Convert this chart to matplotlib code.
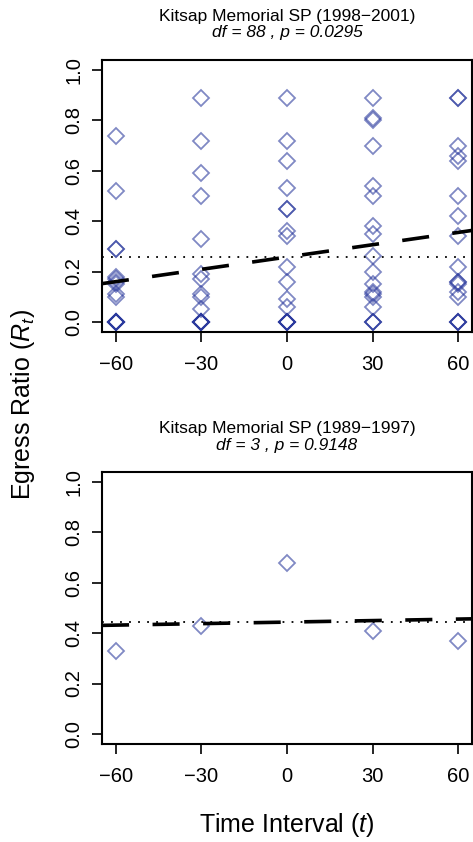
import numpy as np
import matplotlib
matplotlib.use("Agg")
import matplotlib.pyplot as plt

plt.rcParams['font.family'] = ['Liberation Sans', 'DejaVu Sans']
plt.rcParams['mathtext.fontset'] = 'custom'
plt.rcParams['mathtext.rm'] = 'Liberation Sans'
plt.rcParams['mathtext.it'] = 'Liberation Sans:italic'

# time intervals (minutes relative to low tide)
time_levels = [-60, -30, 0, 30, 60]

# 1998-2001 egress ratios, one list per interval
ratio_m60 = [0.74, 0.52, 0.29, 0.29, 0.18, 0.17, 0.16, 0.15, 0.11, 0.10,
             0, 0, 0, 0, 0, 0, 0, 0]
ratio_m30 = [0.89, 0.72, 0.59, 0.50, 0.33, 0.19, 0.17, 0.11, 0.10, 0.05,
             0, 0, 0, 0, 0, 0, 0, 0]
ratio_0 = [0.89, 0.72, 0.64, 0.53, 0.45, 0.45, 0.36, 0.34, 0.22, 0.16,
           0.09, 0.06, 0, 0, 0, 0, 0, 0]
ratio_p30 = [0.89, 0.81, 0.80, 0.70, 0.54, 0.50, 0.38, 0.35, 0.26, 0.20,
             0.15, 0.12, 0.11, 0.10, 0.06, 0, 0, 0]
ratio_p60 = [0.89, 0.89, 0.70, 0.66, 0.64, 0.50, 0.42, 0.34, 0.22, 0.16,
             0.16, 0.15, 0.12, 0.10, 0, 0, 0, 0]

# 1989-1997 egress ratios (one value per interval)
ratio_early = [0.33, 0.43, 0.68, 0.41, 0.37]

titles = ["Kitsap Memorial SP (1998\u22122001)", "Kitsap Memorial SP (1989\u22121997)"]
stats = ["df = 88 , p = 0.0295", "df = 3 , p = 0.9148"]

late_cols = [ratio_m60, ratio_m30, ratio_0, ratio_p30, ratio_p60]
t_late = np.concatenate([[t] * len(c) for t, c in zip(time_levels, late_cols)])
r_late = np.concatenate(late_cols)
t_early = np.array(time_levels, dtype=float)
r_early = np.array(ratio_early)

W, H = 473, 842
fig = plt.figure(figsize=(W / 100, H / 100), dpi=100)

pt_color = '#2b3a9e'
xlim = (-64.8, 64.8)
ylim = (-0.04, 1.04)


def panel(rect, t, r, title, stat, title_y):
    ax = fig.add_axes(rect)
    ax.plot(t, r, linestyle='none', marker='D', markersize=8.2,
            markerfacecolor='none', markeredgecolor=pt_color,
            markeredgewidth=1.3, alpha=0.6)
    # mean ratio (dotted) and linear fit (dashed)
    ax.axhline(r.mean(), color='black', lw=1.3, dashes=(1, 4))
    slope, icpt = np.polyfit(t, r, 1)
    xs = np.array(xlim)
    ax.plot(xs, icpt + slope * xs, color='black', lw=2.6, dashes=(7.5, 6.5))
    ax.set_xlim(*xlim)
    ax.set_ylim(*ylim)
    ax.set_xticks(time_levels)
    ax.set_xticklabels(["\u221260", "\u221230", "0", "30", "60"])
    ax.set_yticks([0, 0.2, 0.4, 0.6, 0.8, 1.0])
    ax.set_yticklabels(["0.0", "0.2", "0.4", "0.6", "0.8", "1.0"], rotation=90, va='center')
    ax.tick_params(length=7.2, width=1.2, labelsize=14.5)
    ax.tick_params(axis='x', pad=9)
    ax.tick_params(axis='y', pad=6)
    for s in ax.spines.values():
        s.set_linewidth(1.5)
    cx = rect[0] + rect[2] / 2
    fig.text(cx, title_y, title, ha='center', va='center', fontsize=12.5)
    fig.text(cx, title_y - 17 / H, stat, ha='center', va='center',
             fontsize=12.5, style='italic')
    return ax


left = 102 / W
width = 370 / W
height = 272 / H
panel([left, 1 - 332 / H, width, height], t_late, r_late, titles[0], stats[0], 1 - 16 / H)
panel([left, 1 - 744 / H, width, height], t_early, r_early, titles[1], stats[1], 1 - 428 / H)

fig.text(23 / W, 1 - 405 / H, r"Egress Ratio ($R_t$)", rotation=90,
         ha='center', va='center', fontsize=18)
fig.text((102 + 185) / W, 1 - 825 / H, r"Time Interval ($t$)",
         ha='center', va='center', fontsize=18)

fig.savefig("out.png", dpi=100)
